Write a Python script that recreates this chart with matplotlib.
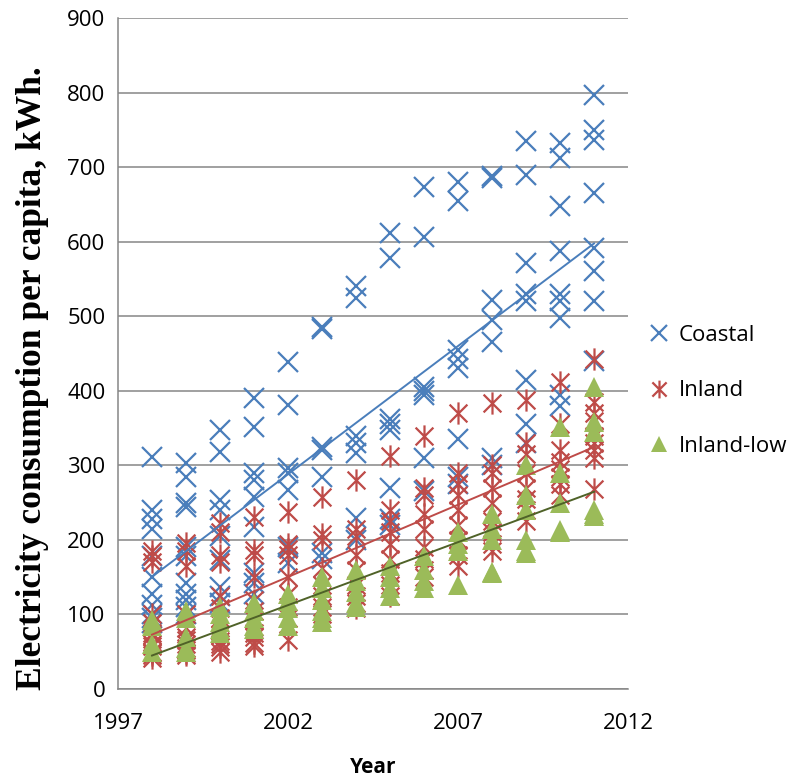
import numpy as np
import matplotlib
matplotlib.use('Agg')
import matplotlib.pyplot as plt
from matplotlib.path import Path

plt.rcParams['font.family'] = ['Open Sans', 'DejaVu Sans']

years = list(range(1998, 2012))

# values read per year (several per year, many overlap)
coastal = [
    [311, 240, 228, 215, 178, 150, 128, 112, 100, 95, 88],
    [303, 285, 250, 244, 190, 178, 142, 128, 120, 110, 100],
    [347, 318, 253, 240, 205, 173, 137, 125, 115],
    [390, 351, 290, 280, 258, 217, 155, 142, 128],
    [439, 381, 296, 290, 267, 190, 169],
    [486, 483, 325, 320, 285, 182, 175],
    [540, 524, 340, 330, 316, 230, 200],
    [612, 578, 362, 355, 348, 270, 228, 220],
    [673, 606, 405, 400, 395, 310, 265],
    [680, 655, 455, 443, 430, 335, 285, 275],
    [688, 685, 522, 495, 465, 310, 300],
    [735, 690, 572, 530, 520, 415, 355, 330],
    [733, 712, 648, 587, 530, 520, 497, 395, 380],
    [797, 750, 737, 665, 592, 561, 520, 440],
]
inland = [
    [185, 178, 170, 100, 88, 75, 72, 60, 58, 50, 48, 45, 42],
    [196, 185, 165, 100, 82, 70, 66, 60, 55, 52, 48, 45],
    [222, 210, 180, 170, 125, 108, 95, 72, 65, 60, 56, 50],
    [231, 186, 180, 150, 120, 104, 92, 75, 70, 62, 58],
    [237, 195, 188, 180, 150, 128, 110, 95, 66],
    [258, 208, 200, 162, 140, 125, 110, 100],
    [280, 215, 205, 180, 160, 140, 125, 115, 108],
    [312, 240, 225, 210, 195, 175, 155, 140, 125],
    [340, 270, 260, 235, 215, 190, 175, 160, 150],
    [370, 290, 275, 260, 240, 220, 200, 180, 165],
    [383, 300, 290, 270, 250, 225, 210, 195, 185],
    [388, 330, 315, 290, 270, 255, 240, 225],
    [412, 355, 320, 305, 295, 285, 275, 260],
    [443, 385, 370, 360, 340, 330, 320, 310, 268],
]
inland_low = [
    [92, 85, 60, 50],
    [105, 95, 70, 55, 50],
    [110, 100, 90, 80, 75],
    [115, 105, 95, 85, 80],
    [128, 118, 108, 95, 85],
    [150, 135, 120, 105, 95, 90],
    [160, 145, 130, 115, 110],
    [165, 150, 135, 125],
    [178, 160, 145, 135],
    [210, 195, 185, 140],
    [235, 215, 200, 157, 155],
    [300, 260, 240, 200, 185, 183],
    [352, 290, 250, 213, 210],
    [405, 358, 345, 240, 235, 232],
]

blue = '#4a7ebb'
red = '#be4b48'
green = '#9bbb59'
dkgreen = '#4f6228'

# excel "star" marker: an X with a vertical bar
star = Path([(-1, -1), (1, 1), (-1, 1), (1, -1), (0, -1.25), (0, 1.25)],
            [Path.MOVETO, Path.LINETO, Path.MOVETO, Path.LINETO, Path.MOVETO, Path.LINETO])


def flat(groups):
    xs = np.concatenate([[y] * len(g) for y, g in zip(years, groups)])
    vs = np.concatenate(groups)
    return xs, vs


fig = plt.figure(figsize=(7.98, 7.79), dpi=100)
ax = fig.add_axes([118 / 798, 1 - 689 / 779, 510 / 798, 671 / 779])

series = [
    ('Coastal', coastal, blue, blue, dict(marker='x', ms=15, mew=1.6)),
    ('Inland', inland, red, red, dict(marker=star, ms=16, mew=1.6)),
    ('Inland-low', inland_low, green, dkgreen, dict(marker='^', ms=14, mew=0)),
]

fits = []
for name, groups, col, lcol, mk in series:
    xs, vs = flat(groups)
    ax.plot(xs, vs, ls='none', color=col, mec=col, mfc=col, label=name, zorder=3, **mk)
    fits.append((np.polyfit(xs, vs, 1), lcol))

xx = np.array([years[0], years[-1]])
for coef, lcol in fits:
    ax.plot(xx, np.polyval(coef, xx), color=lcol, lw=1.4, zorder=4)

ax.set_xlim(1997, 2012)
ax.set_ylim(0, 900)
ax.set_xticks([1997, 2002, 2007, 2012])
ax.set_yticks(range(0, 901, 100))
ax.yaxis.grid(True, color='#868686', lw=1.1)
ax.set_axisbelow(True)
for s in ['top', 'right']:
    ax.spines[s].set_visible(False)
for s in ['left', 'bottom']:
    ax.spines[s].set_color('#868686')
    ax.spines[s].set_linewidth(1.1)
ax.tick_params(axis='both', length=0, labelsize=16)
ax.tick_params(axis='y', pad=9)
ax.tick_params(axis='x', pad=17)

ax.set_xlabel('Year', fontsize=15, fontweight='bold', labelpad=17)
fig.text(33 / 798, 1 - 378 / 779, 'Electricity consumption per capita, kWh.',
         rotation=90, ha='center', va='center', fontsize=25.5, fontweight='bold',
         family='Liberation Serif')

fig.legend(loc='center left', bbox_to_anchor=(638 / 798, 1 - 391 / 779), frameon=False,
           fontsize=16, handlelength=0.9, handletextpad=0.45, labelspacing=1.55,
           borderpad=0, markerscale=0.8)

fig.savefig('out.png', dpi=100)
